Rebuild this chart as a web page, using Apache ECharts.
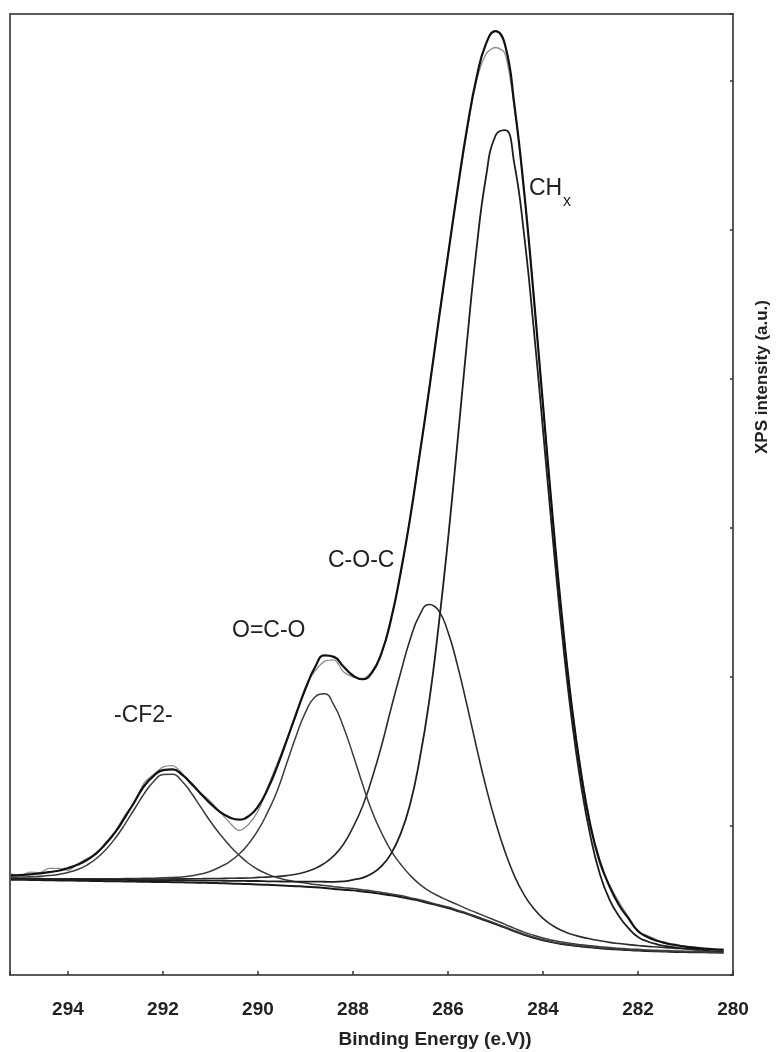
<!DOCTYPE html>
<html><head><meta charset="utf-8">
<script src="https://cdn.jsdelivr.net/npm/echarts@6/dist/echarts.min.js"></script>
<style>html,body{margin:0;padding:0;background:#fff}#c{width:776px;height:1052px}</style>
</head><body><div id="c"></div>
<script>
// Binding energy (eV) sample positions
const energy = [295.2,295.0,294.8,294.6,294.4,294.2,294.0,293.8,293.6,293.4,293.2,293.0,292.8,292.6,292.4,292.2,292.0,291.8,291.6,291.4,
291.2,291.0,290.8,290.6,290.4,290.2,290.0,289.8,289.6,289.4,289.2,289.0,288.8,288.6,288.4,288.2,288.0,287.8,287.6,287.4,
287.2,287.0,286.8,286.6,286.4,286.2,286.0,285.8,285.6,285.4,285.2,285.0,284.8,284.6,284.4,284.2,284.0,283.8,283.6,283.4,
283.2,283.0,282.8,282.6,282.4,282.2,282.0,281.8,281.6,281.4,281.2,281.0,280.8,280.6,280.4,280.2];

// Shirley-type background
const background = [64.0,63.9,63.8,63.7,63.6,63.5,63.4,63.3,63.2,63.1,63.0,62.9,62.8,62.7,62.6,62.5,62.4,62.3,62.2,62.0,
61.9,61.8,61.6,61.4,61.2,61.0,60.8,60.5,60.2,59.9,59.6,59.3,58.9,58.4,57.8,57.2,56.8,56.0,55.3,54.4,
53.5,52.4,51.1,49.8,48.2,46.6,45.0,43.0,41.0,38.8,36.5,34.2,31.8,29.3,27.0,25.0,23.3,21.9,20.8,19.9,
19.2,18.6,18.0,17.5,17.1,16.7,16.4,16.1,15.9,15.7,15.5,15.4,15.3,15.2,15.1,15.0];

// CHx component
const chx = [64.6,64.5,64.4,64.4,64.3,64.2,64.2,64.1,64.0,64.0,63.9,63.8,63.8,63.7,63.7,63.7,63.6,63.6,63.6,63.4,
63.4,63.4,63.3,63.2,63.2,63.1,63.1,62.9,62.8,62.7,62.7,62.7,62.7,62.6,62.5,62.8,63.9,65.2,68.1,73.0,
81.3,94.5,114.3,144.1,182.8,233.5,292.1,357.7,425.1,487.1,535.6,563.3,567.0,543.9,497.5,435.6,365.9,295.2,229.4,172.9,
127.7,93.0,67.5,50.6,39.5,31.4,25.5,22.5,20.6,19.3,18.4,17.7,17.1,16.7,16.4,16.2];

// C-O-C component
const coc = [64.8,64.8,64.7,64.7,64.6,64.6,64.5,64.5,64.4,64.4,64.4,64.3,64.4,64.4,64.4,64.4,64.4,64.5,64.5,64.5,
64.6,64.8,64.8,64.9,65.0,65.1,65.5,65.7,66.1,66.7,67.6,69.2,71.5,75.0,80.1,87.8,99.1,113.1,131.9,153.7,
178.7,202.5,224.9,241.3,248.7,244.7,230.2,207.8,181.1,152.9,126.2,102.8,82.8,66.4,54.0,44.8,38.0,33.2,29.8,27.3,
25.6,24.2,23.0,21.9,21.1,20.4,19.8,19.2,18.8,18.4,17.9,17.7,17.4,17.2,17.0,16.7];

// O=C-O component
const oco = [64.9,64.8,64.7,64.7,64.6,64.6,64.6,64.5,64.6,64.5,64.6,64.6,64.7,64.8,64.9,65.0,65.2,65.5,65.8,66.6,
67.8,69.6,72.5,76.0,81.0,88.0,97.0,109.0,123.2,141.6,160.1,176.3,186.6,188.7,181.1,166.5,148.0,128.2,109.9,95.5,
83.5,74.5,67.0,61.0,56.5,53.0,50.0,47.2,44.4,41.8,39.2,36.6,34.0,31.3,28.8,26.7,24.8,23.3,22.1,21.1,
20.3,19.6,19.0,18.4,18.0,17.5,17.2,16.8,16.6,16.4,16.1,16.0,15.9,15.8,15.6,15.5];

// -CF2- component
const cf2 = [65.7,65.8,66.0,66.3,66.8,67.5,68.8,70.8,73.8,78.2,84.3,92.0,101.3,111.4,121.5,129.7,134.6,134.8,130.1,122.0,
112.5,103.0,94.5,87.0,80.5,75.0,70.8,67.7,65.4,63.8,62.6,61.7,60.8,60.1,59.3,58.6,58.1,57.2,56.4,55.4,
54.4,53.3,51.9,50.5,48.9,47.2,45.6,43.5,41.5,39.3,37.0,34.6,32.2,29.7,27.4,25.4,23.7,22.2,21.1,20.2,
19.5,18.9,18.3,17.8,17.4,17.0,16.7,16.4,16.1,15.9,15.7,15.6,15.5,15.4,15.3,15.2];

// Fitted envelope
const envelope = [66.8,67.1,67.5,68.2,69.0,70.0,71.8,74.0,77.2,81.8,88.2,96.0,105.8,116.2,126.7,133.5,137.5,138.0,134.5,128.5,
121.5,115.0,109.5,105.8,104.3,106.5,113.0,124.5,139.5,157.0,175.0,192.0,206.5,214.5,213.5,207.0,201.0,198.5,203.0,216.0,
238.5,269.5,306.0,348.5,392.0,438.5,483.0,526.9,568.0,602.0,625.0,633.5,624.5,583.4,526.7,457.5,382.5,308.2,240.0,181.8,
135.5,99.9,76.0,59.5,47.0,38.0,29.5,25.5,23.0,21.3,20.0,19.0,18.3,17.7,17.3,17.0];

// Measured spectrum
const raw = [67.8,66.6,69.0,68.7,71.5,71.5,70.3,74.5,78.2,81.3,89.2,96.5,107.3,115.7,128.7,134.5,139.5,140.5,135.5,127.5,
122.0,116.5,109.5,102.3,97.0,101.0,110.0,125.5,141.5,157.5,174.0,193.5,204.0,210.5,211.5,203.5,200.0,199.0,204.0,215.5,
239.5,268.5,306.5,348.0,393.0,438.0,483.0,525.9,566.0,600.0,618.0,622.5,618.5,581.4,527.7,457.0,383.5,308.7,239.0,182.3,
137.5,101.4,74.0,60.5,49.0,39.0,29.0,26.5,23.5,20.8,20.5,19.0,18.8,17.7,16.8,17.0];

const xTickValues = [280,282,284,286,288,290,292,294];
const peakLabels = ['CH', 'x', 'C-O-C', 'O=C-O', '-CF2-'];
const xTitle = 'Binding Energy (e.V))';
const yTitle = 'XPS intensity (a.u.)';

function pairs(arr){ return energy.map((e,i)=>[e, arr[i]]); }

const chart = echarts.init(document.getElementById('c'), null, {renderer:'canvas'});
const FONT = '"Liberation Sans", Arial, Helvetica, sans-serif';

function line(name, arr, color, width, z, sm){
  return {name, type:'line', data:pairs(arr), showSymbol:false, smooth:sm,
    lineStyle:{color, width}, z, silent:true};
}

chart.setOption({
  animation:false,
  backgroundColor:'#ffffff',
  grid:{left:10, right:43, top:14, bottom:77, show:true, borderColor:'#5a5a5a', borderWidth:2, backgroundColor:'transparent'},
  xAxis:{type:'value', min:280, max:295.22, inverse:true, interval:2,
    axisLine:{show:false},
    axisTick:{show:true, inside:true, length:4, lineStyle:{color:'#333', width:1.5}},
    axisLabel:{margin:25, fontSize:19, fontWeight:'bold', color:'#222', fontFamily:FONT,
      formatter:v=> xTickValues.indexOf(Math.round(v*100)/100)>=0 ? String(v) : ''},
    splitLine:{show:false}},
  yAxis:{type:'value', min:0, max:645, interval:100, position:'right',
    axisLine:{show:false},
    axisTick:{show:true, inside:true, length:3, lineStyle:{color:'#333', width:1.5}},
    axisLabel:{show:false}, splitLine:{show:false}},
  series:[
    line('background', background, '#1a1a1a', 2, 3, 0.5),
    line('CF2', cf2, '#3c3c3c', 1.5, 4, 0.5),
    line('OCO', oco, '#3c3c3c', 1.5, 4, 0.5),
    line('COC', coc, '#2a2a2a', 1.6, 4, 0.5),
    line('CHx', chx, '#1e1e1e', 1.8, 4, 0.5),
    line('raw', raw, '#8c8c8c', 1.3, 5, 0.3),
    line('envelope', envelope, '#111111', 2.2, 6, 0.5)
  ],
  graphic:[
    {type:'text', x:529, y:189, style:{text:peakLabels[0], font:'23px '+FONT, fill:'#222', textAlign:'left', textVerticalAlign:'middle'}},
    {type:'text', x:563, y:202, style:{text:peakLabels[1], font:'16px '+FONT, fill:'#222', textAlign:'left', textVerticalAlign:'middle'}},
    {type:'text', x:328, y:561, style:{text:peakLabels[2], font:'23px '+FONT, fill:'#222', textAlign:'left', textVerticalAlign:'middle'}},
    {type:'text', x:232, y:631, style:{text:peakLabels[3], font:'23px '+FONT, fill:'#222', textAlign:'left', textVerticalAlign:'middle'}},
    {type:'text', x:114, y:716, style:{text:peakLabels[4], font:'23px '+FONT, fill:'#222', textAlign:'left', textVerticalAlign:'middle'}},
    {type:'text', x:435, y:1040, style:{text:xTitle, font:'bold 19px '+FONT, fill:'#222', textAlign:'center', textVerticalAlign:'middle'}},
    {type:'text', x:762, y:377, rotation:Math.PI/2, style:{text:yTitle, font:'bold 17px '+FONT, fill:'#222', textAlign:'center', textVerticalAlign:'middle'}}
  ]
});
</script></body></html>
